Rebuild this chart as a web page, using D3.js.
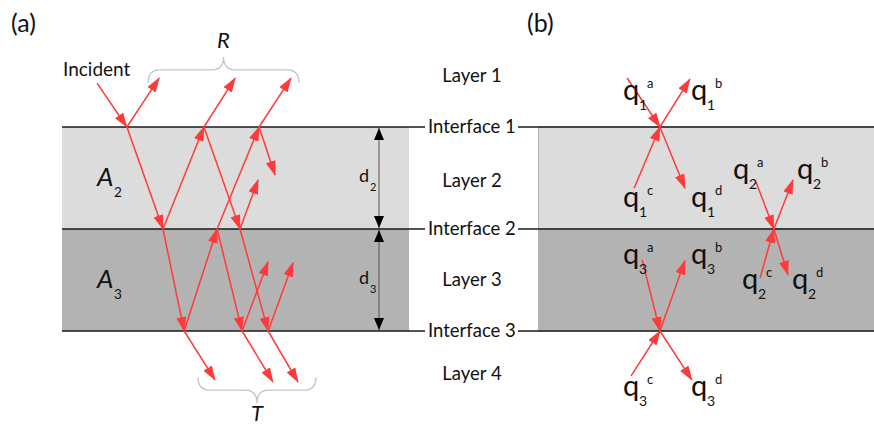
<!DOCTYPE html>
<html>
<head>
<meta charset="utf-8">
<script src="https://cdn.jsdelivr.net/npm/d3@7"></script>
<style>
  html, body { margin: 0; padding: 0; background: #fff; }
  svg { display: block; }
  text { font-family: Lato, "Liberation Sans", sans-serif; fill: #111; }
</style>
</head>
<body>
<svg id="fig" width="874" height="427"></svg>
<script>
// Interfaces and layers of the stack (depth measured in interface index)
const interfaceNames = ["Interface 1", "Interface 2", "Interface 3"];
const interfaceDepths = [0, 1, 2];
const layerNames = ["Layer 1", "Layer 2", "Layer 3", "Layer 4"];
const layerDepths = [-0.5, 0.52, 1.5, 2.42];

// Slabs between interfaces: [symbol, subscript, top depth, bottom depth]
const slabs = [["A", "2", 0, 1], ["A", "3", 1, 2]];
const thicknessLabels = [["d", "2", 0, 1], ["d", "3", 1, 2]];

// Panel (a) rays: [x start, depth start, x end, depth end]
const raysA = [
  [10.1, -0.43, 18.7, 0],
  [18.7, 0, 28.0, -0.48],
  [18.7, 0, 29.1, 1],
  [29.1, 1, 40.9, 0],
  [29.1, 1, 35.2, 2],
  [40.9, 0, 49.9, -0.48],
  [40.9, 0, 51.3, 1],
  [35.2, 2, 44.1, 2.48],
  [35.2, 2, 44.7, 1],
  [44.7, 1, 56.8, 0],
  [44.7, 1, 51.9, 2],
  [51.3, 1, 59.4, 2],
  [51.3, 1, 56.5, 0.52],
  [56.8, 0, 66.0, -0.48],
  [56.8, 0, 61.4, 0.47],
  [51.9, 2, 60.8, 2.50],
  [51.9, 2, 59.4, 1.32],
  [59.4, 2, 68.0, 2.50],
  [59.4, 2, 66.6, 1.33]
];

// Braces grouping reflected (R) and transmitted (T) rays: [label, x from, x to, depth of flat part, side]
const braces = [["R", 24.8, 68.3, -0.56, -1], ["T", 39.2, 73.2, 2.58, 1]];

// Panel (b) rays: [x start, depth start, x end, depth end]
const raysB = [
  [26.5, -0.48, 36.3, 0],
  [36.3, 0, 45.2, -0.47],
  [28.6, 0.60, 36.3, 0],
  [36.3, 0, 43.75, 0.60],
  [64.9, 0.54, 70.2, 1],
  [70.2, 1, 75.9, 0.52],
  [66.1, 1.48, 70.2, 1],
  [70.2, 1, 74.4, 1.45],
  [31.0, 1.30, 36.3, 2],
  [36.3, 2, 43.75, 1.31],
  [27.7, 2.44, 36.3, 2],
  [36.3, 2, 45.8, 2.48]
];

// Wave amplitude labels q_i^k: [interface index, wave letter, x, depth of baseline]
const amplitudeLabels = [
  ["1", "a", 25.3, -0.265], ["1", "b", 45.5, -0.265],
  ["1", "c", 25.3, 0.784],  ["1", "d", 45.5, 0.784],
  ["2", "a", 58.0, 0.51],   ["2", "b", 77.1, 0.51],
  ["2", "c", 60.7, 1.588],  ["2", "d", 75.6, 1.588],
  ["3", "a", 25.3, 1.343],  ["3", "b", 45.5, 1.343],
  ["3", "c", 25.3, 2.637],  ["3", "d", 45.5, 2.637]
];

const svg = d3.select("#fig");
const RED = "#ff3a3a";
const slabFills = ["#dcdcdc", "#b3b3b3"];

const y = d3.scaleLinear().domain([0, 2]).range([127, 331]);
const xa = d3.scaleLinear().domain([0, 100]).range([62, 409]);
const xb = d3.scaleLinear().domain([0, 100]).range([538, 874]);

// arrowhead markers
const defs = svg.append("defs");
defs.append("marker")
  .attr("id", "redHead").attr("markerUnits", "userSpaceOnUse")
  .attr("viewBox", "0 0 15 10").attr("markerWidth", 15).attr("markerHeight", 10)
  .attr("refX", 14).attr("refY", 5).attr("orient", "auto")
  .append("path").attr("d", "M0,0 L15,5 L0,10 Z").attr("fill", RED);
defs.append("marker")
  .attr("id", "blackHead").attr("markerUnits", "userSpaceOnUse")
  .attr("viewBox", "0 0 12 10").attr("markerWidth", 12).attr("markerHeight", 10)
  .attr("refX", 12).attr("refY", 5).attr("orient", "auto")
  .append("path").attr("d", "M0,0 L12,5 L0,10 Z").attr("fill", "#000");

// slabs
svg.append("g").selectAll("rect").data(slabs).join("rect")
  .attr("x", xa(0)).attr("width", xa(100) - xa(0))
  .attr("y", d => y(d[2])).attr("height", d => y(d[3]) - y(d[2]))
  .attr("fill", (d, i) => slabFills[i]);
svg.append("g").selectAll("rect").data(slabs).join("rect")
  .attr("x", xb(0) + 0.5).attr("width", xb(100) - xb(0))
  .attr("y", d => y(d[2])).attr("height", d => y(d[3]) - y(d[2]))
  .attr("fill", (d, i) => slabFills[i])
  .attr("stroke", "#a8a8a8").attr("stroke-width", 0.8);

// interface lines
const iface = svg.append("g");
iface.selectAll("line.l").data(interfaceDepths).join("line").attr("class", "l")
  .attr("x1", xa(0)).attr("x2", 425).attr("y1", d => y(d)).attr("y2", d => y(d))
  .attr("stroke", "#1a1a1a").attr("stroke-width", 1.6);
iface.selectAll("line.r").data(interfaceDepths).join("line").attr("class", "r")
  .attr("x1", 518).attr("x2", 874).attr("y1", d => y(d)).attr("y2", d => y(d))
  .attr("stroke", "#1a1a1a").attr("stroke-width", 1.6);
iface.selectAll("text").data(interfaceNames).join("text")
  .attr("x", 428).attr("y", (d, i) => y(interfaceDepths[i]))
  .attr("dy", "0.35em").attr("font-size", 18.5).text(d => d);

// layer names
svg.append("g").selectAll("text").data(layerNames).join("text")
  .attr("x", 472).attr("y", (d, i) => y(layerDepths[i]))
  .attr("dy", "0.35em").attr("text-anchor", "middle").attr("font-size", 18.5)
  .text(d => d);

// thickness arrows d2, d3
const thick = svg.append("g");
thick.selectAll("line.up").data(thicknessLabels).join("line").attr("class", "up")
  .attr("x1", 379).attr("x2", 379)
  .attr("y1", d => (y(d[2]) + y(d[3])) / 2).attr("y2", d => y(d[2]) + 1)
  .attr("stroke", "#555").attr("stroke-width", 1)
  .attr("marker-end", "url(#blackHead)");
thick.selectAll("line.down").data(thicknessLabels).join("line").attr("class", "down")
  .attr("x1", 379).attr("x2", 379)
  .attr("y1", d => (y(d[2]) + y(d[3])) / 2).attr("y2", d => y(d[3]) - 1)
  .attr("stroke", "#555").attr("stroke-width", 1)
  .attr("marker-end", "url(#blackHead)");
const dl = thick.selectAll("g.lab").data(thicknessLabels).join("g").attr("class", "lab");
dl.append("text").attr("x", 359).attr("y", d => (y(d[2]) + y(d[3])) / 2 + 4)
  .attr("font-size", 18).text(d => d[0]);
dl.append("text").attr("x", 370).attr("y", d => (y(d[2]) + y(d[3])) / 2 + 13)
  .attr("font-size", 11).text(d => d[1]);

// slab labels A2, A3
const al = svg.append("g").selectAll("g").data(slabs).join("g");
al.append("text").attr("x", 97).attr("y", d => (y(d[2]) + y(d[3])) / 2 + 8)
  .attr("font-size", 26).attr("font-style", "italic").text(d => d[0]);
al.append("text").attr("x", 114).attr("y", d => (y(d[2]) + y(d[3])) / 2 + 19)
  .attr("font-size", 13.5).text(d => d[1]);

// rays
const rayLine = (sx) => d => `M${sx(d[0])},${y(d[1])}L${sx(d[2])},${y(d[3])}`;
svg.append("g").selectAll("path").data(raysA).join("path")
  .attr("d", rayLine(xa)).attr("stroke", RED).attr("stroke-width", 1.5)
  .attr("fill", "none").attr("marker-end", "url(#redHead)");
svg.append("g").selectAll("path").data(raysB).join("path")
  .attr("d", rayLine(xb)).attr("stroke", RED).attr("stroke-width", 1.5)
  .attr("fill", "none").attr("marker-end", "url(#redHead)");

// braces
function bracePath(x0, x1, yf, s) {
  const h = 13, r = 12, xm = (x0 + x1) / 2;
  return `M${x0},${yf - s * h} Q${x0},${yf} ${x0 + r},${yf} L${xm - r},${yf} Q${xm},${yf} ${xm},${yf + s * h}` +
         ` Q${xm},${yf} ${xm + r},${yf} L${x1 - r},${yf} Q${x1},${yf} ${x1},${yf - s * h}`;
}
const br = svg.append("g").selectAll("g").data(braces).join("g");
br.append("path")
  .attr("d", d => bracePath(xa(d[1]), xa(d[2]), y(d[3]), d[4]))
  .attr("fill", "none").attr("stroke", "#c4c4c4").attr("stroke-width", 1.3);
br.append("text")
  .attr("x", d => (xa(d[1]) + xa(d[2])) / 2)
  .attr("y", d => y(d[3]) + d[4] * 22 + (d[4] < 0 ? 0 : 9))
  .attr("text-anchor", "middle").attr("font-size", 22).attr("font-style", "italic")
  .text(d => d[0]);

// incident label and panel tags
svg.append("text").attr("x", 63).attr("y", 76).attr("font-size", 19).text("Incident");
svg.append("text").attr("x", 11).attr("y", 32).attr("font-size", 25).text("(a)");
svg.append("text").attr("x", 527).attr("y", 32).attr("font-size", 25).text("(b)");

// amplitude labels
const ql = svg.append("g").selectAll("g").data(amplitudeLabels).join("g");
ql.append("text").attr("x", d => xb(d[2])).attr("y", d => y(d[3]))
  .attr("font-size", 29).text("q");
ql.append("text").attr("x", d => xb(d[2]) + 16).attr("y", d => y(d[3]) + 10)
  .attr("font-size", 14).text(d => d[0]);
ql.append("text").attr("x", d => xb(d[2]) + 24).attr("y", d => y(d[3]) - 12)
  .attr("font-size", 13).text(d => d[1]);
</script>
</body>
</html>
